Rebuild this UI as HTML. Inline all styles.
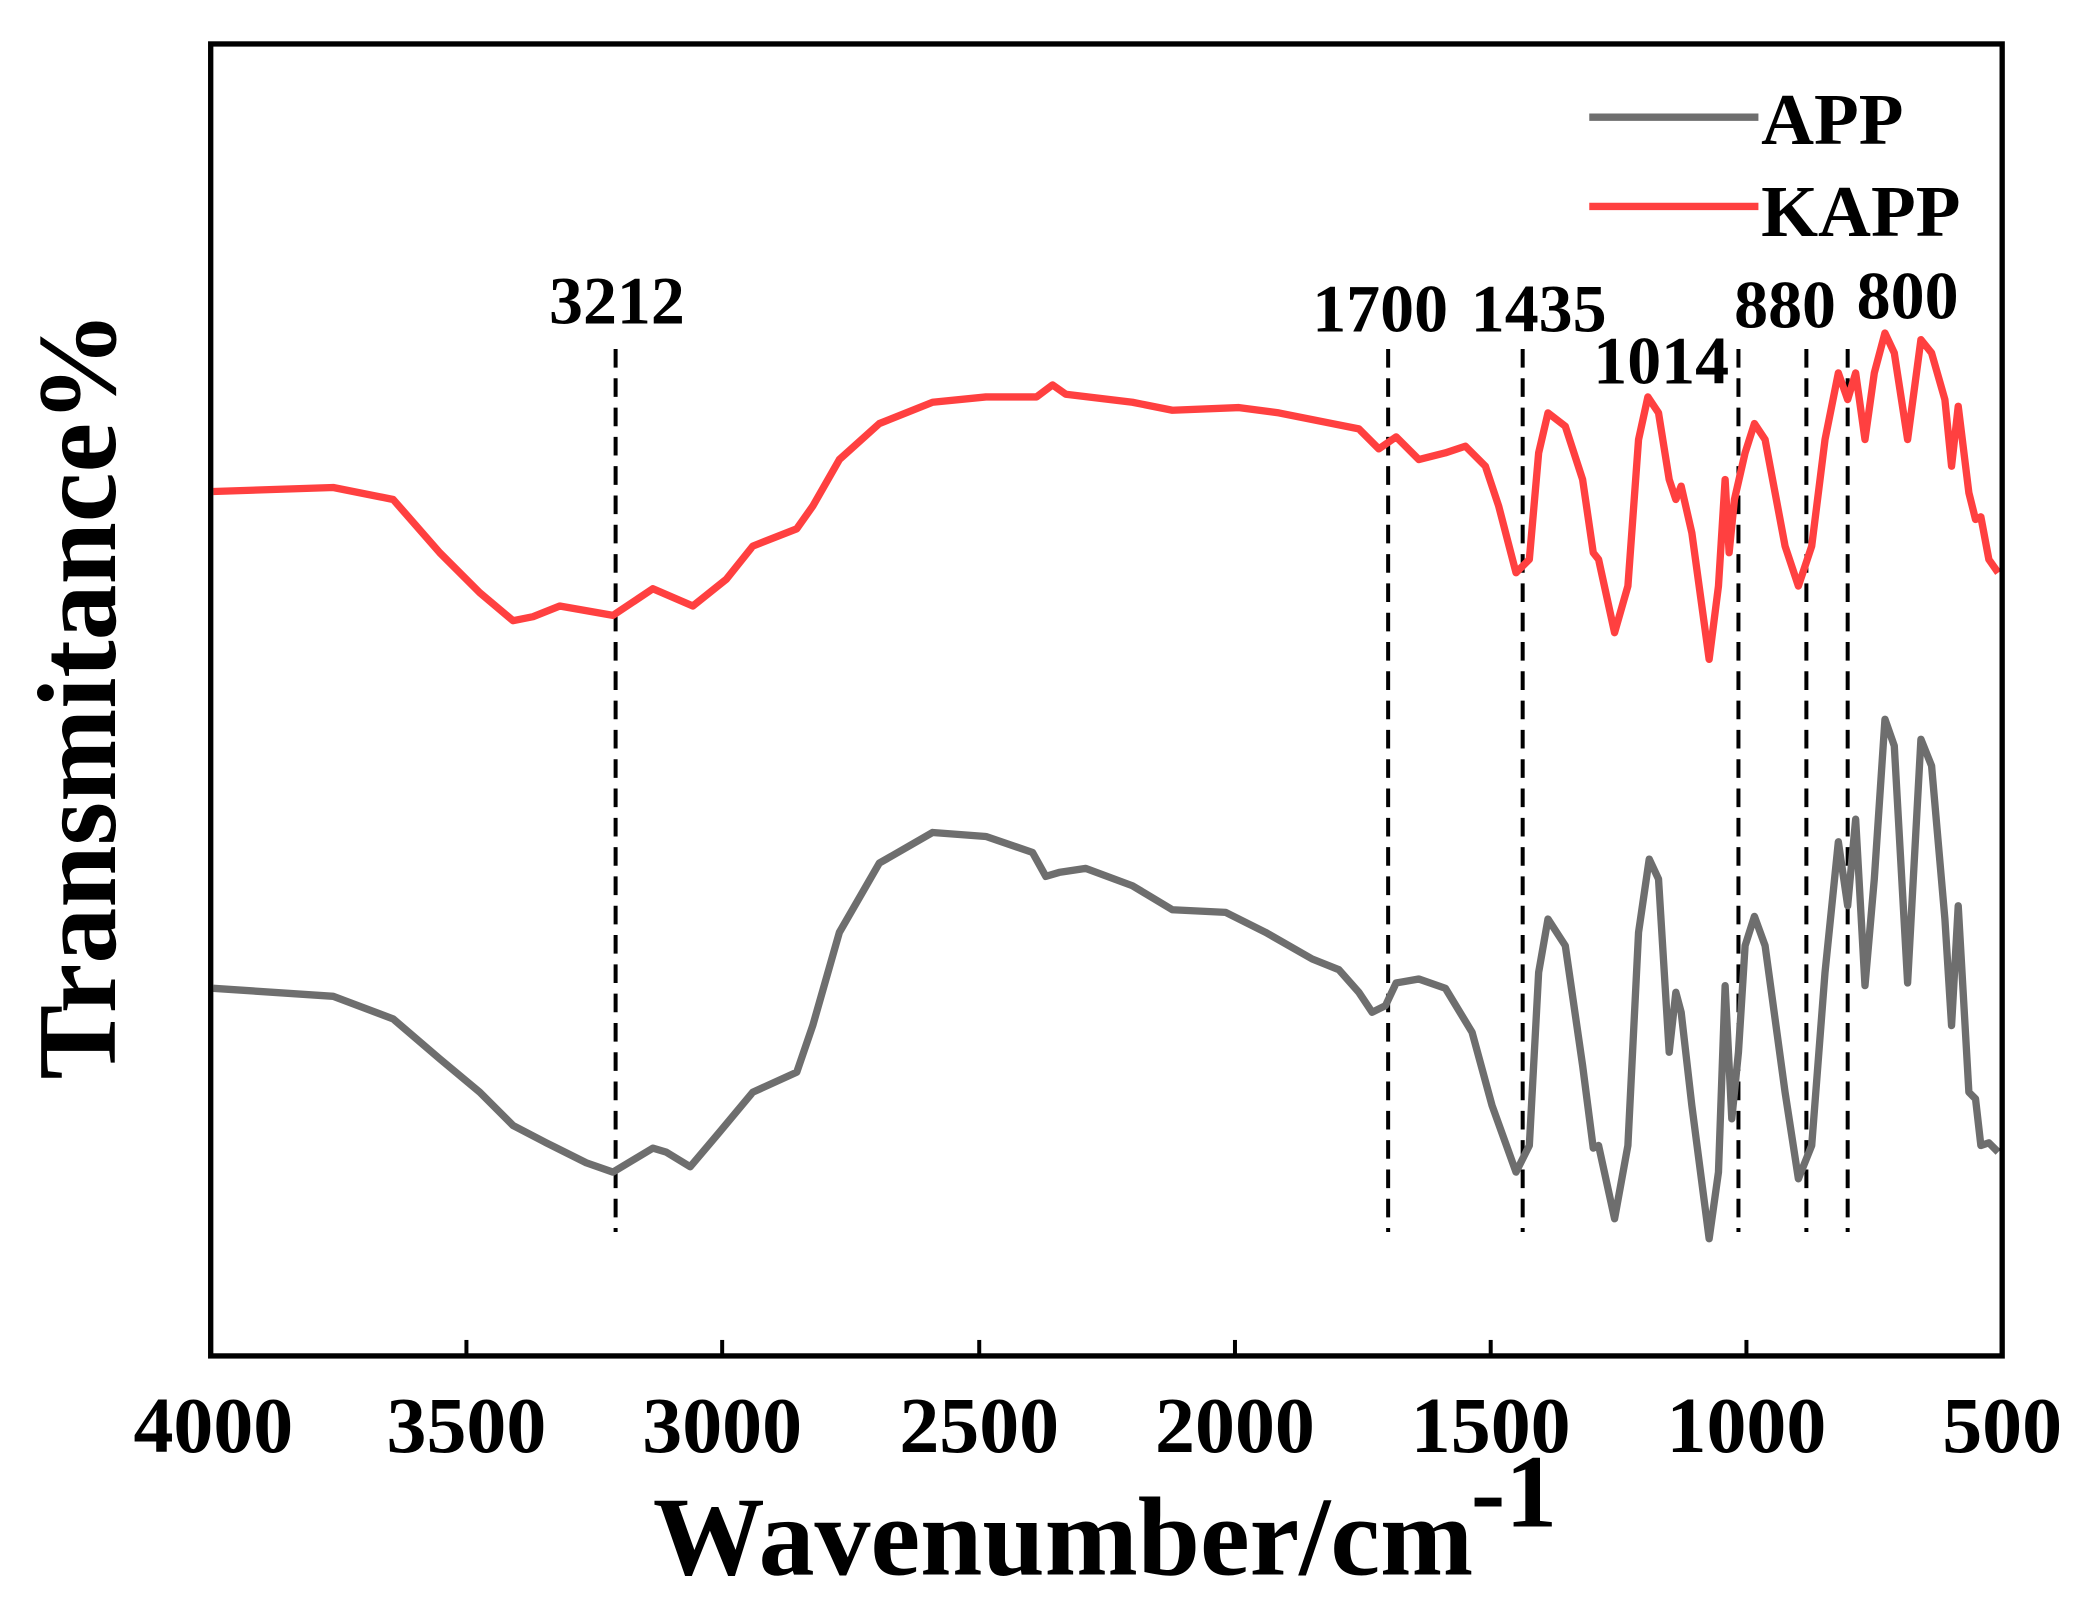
<!DOCTYPE html>
<html><head><meta charset="utf-8"><style>html,body{margin:0;padding:0;background:#fff}svg{display:block}</style></head><body>
<svg width="2089" height="1609" viewBox="0 0 1568 1208" xmlns="http://www.w3.org/2000/svg" font-family="Liberation Serif, serif" font-weight="bold">
<rect x="0" y="0" width="1568" height="1208" fill="#fff"/>
<g stroke="#000" stroke-width="3" stroke-dasharray="14,8" fill="none">
<line x1="462" y1="262" x2="462" y2="925"/>
<line x1="1042" y1="262" x2="1042" y2="925"/>
<line x1="1143" y1="262" x2="1143" y2="925"/>
<line x1="1305" y1="262" x2="1305" y2="925"/>
<line x1="1356" y1="262" x2="1356" y2="925"/>
<line x1="1387" y1="262" x2="1387" y2="925"/>
</g>
<polyline fill="none" stroke="#ff4040" stroke-width="5.5" stroke-linejoin="round" points="160,369 250,366 295,375 330,415 360,445 385,466 400,463 420,455 460,462 490,442 520,455 545,435 565,410 598,397 610,380 630,345 660,318 700,302 740,298 778,298 790,289 800,296 850,302 880,308 930,306 960,310 1000,318 1020,322 1035,337 1048,328 1065,345 1085,340 1100,335 1115,350 1125,380 1138,430 1148,420 1155,340 1162,310 1175,320 1188,360 1196,415 1200,420 1212,475 1222,440 1230,330 1237,298 1245,310 1253,360 1258,375 1262,365 1270,400 1283,495 1290,440 1295,360 1298,415 1302,375 1310,340 1317,318 1325,330 1340,410 1350,440 1360,410 1370,330 1380,280 1387,300 1393,280 1400,330 1407,280 1415,250 1422,265 1432,330 1442,255 1450,265 1460,300 1465,350 1470,305 1478,370 1483,390 1487,388 1493,420 1500,430"/>
<polyline fill="none" stroke="#6e6e6e" stroke-width="5.5" stroke-linejoin="round" points="160,742 250,748 295,765 330,795 360,820 385,845 410,858 440,873 460,880 490,862 500,865 518,876 540,850 565,820 598,805 610,770 630,700 660,648 700,625 740,628 775,640 785,658 795,655 815,652 850,665 880,683 920,685 950,700 985,720 1005,728 1020,745 1030,760 1040,755 1048,738 1065,735 1085,742 1105,775 1120,830 1138,880 1148,860 1155,730 1162,690 1175,710 1188,800 1196,862 1200,860 1212,915 1222,860 1230,700 1238,645 1245,660 1253,790 1258,745 1262,760 1270,830 1283,930 1290,880 1295,740 1300,840 1305,790 1310,710 1317,688 1325,710 1340,820 1350,885 1360,860 1370,730 1380,632 1387,680 1393,615 1400,740 1407,660 1415,540 1422,560 1432,738 1442,555 1450,575 1460,690 1465,770 1470,680 1478,820 1483,825 1487,860 1493,858 1500,865"/>
<rect x="158" y="33" width="1345" height="985" fill="none" stroke="#000" stroke-width="4"/>
<g stroke="#000" stroke-width="3">
<line x1="350" y1="1018" x2="350" y2="1006"/><line x1="542" y1="1018" x2="542" y2="1006"/>
<line x1="735" y1="1018" x2="735" y2="1006"/><line x1="927" y1="1018" x2="927" y2="1006"/>
<line x1="1119" y1="1018" x2="1119" y2="1006"/><line x1="1311" y1="1018" x2="1311" y2="1006"/>
</g>
<g font-size="60" text-anchor="middle">
<text x="160" y="1090">4000</text><text x="350" y="1090">3500</text><text x="542" y="1090">3000</text>
<text x="735" y="1090">2500</text><text x="927" y="1090">2000</text><text x="1119" y="1090">1500</text>
<text x="1311" y="1090">1000</text><text x="1503" y="1090">500</text>
</g>
<text x="490" y="1182" font-size="84">Wavenumber/cm</text>
<text x="1104" y="1146" font-size="78">-1</text>
<text transform="translate(86,522) rotate(-90)" font-size="84" text-anchor="middle">Transmitance%</text>
<g font-size="51" text-anchor="middle">
<text x="463" y="243">3212</text><text x="1036" y="249">1700</text><text x="1155" y="249">1435</text>
<text x="1247" y="288">1014</text><text x="1340" y="246">880</text><text x="1432" y="239">800</text>
</g>
<line x1="1193" y1="88" x2="1320" y2="88" stroke="#6e6e6e" stroke-width="5.5"/>
<line x1="1193" y1="155" x2="1320" y2="155" stroke="#ff4040" stroke-width="5.5"/>
<text x="1322" y="108" font-size="55">APP</text>
<text x="1322" y="177" font-size="55">KAPP</text>
</svg>
</body></html>
